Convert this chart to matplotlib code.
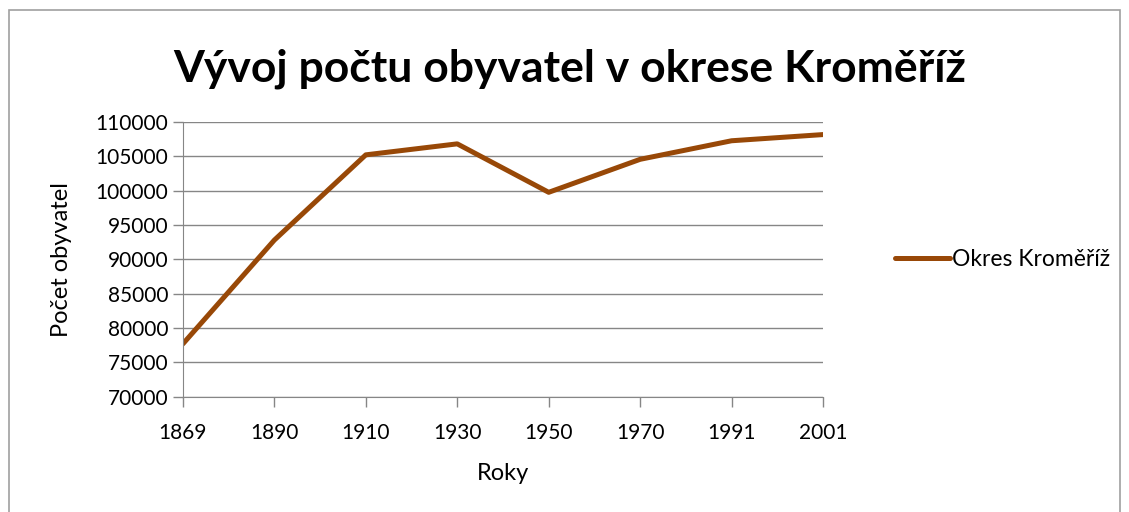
import numpy as np
import matplotlib.pyplot as plt
from matplotlib.patches import Rectangle

roky = ['1869', '1890', '1910', '1930', '1950', '1970', '1991', '2001']
obyvatel = [77700, 92800, 105200, 106800, 99750, 104550, 107250, 108150]

plt.rcParams['font.family'] = ['Lato', 'DejaVu Sans']

fig = plt.figure(figsize=(11.29, 5.12), dpi=100)
ax = fig.add_axes([0.162, 0.225, 0.567, 0.537])

x = np.arange(len(roky))
ax.plot(x, obyvatel, color='#984807', lw=3.6, solid_capstyle='round',
        solid_joinstyle='round', label='Okres Kroměříž')

ax.set_xlim(0, len(roky) - 1)
ax.set_ylim(70000, 110000)
ax.set_yticks(np.arange(70000, 110001, 5000))
ax.set_xticks(x)
ax.set_xticklabels(roky)
ax.yaxis.grid(True, color='#868686', lw=1)
ax.set_axisbelow(True)
for s in ['top', 'right']:
    ax.spines[s].set_visible(False)
for s in ['left', 'bottom']:
    ax.spines[s].set_color('#868686')
ax.tick_params(axis='both', colors='#868686', labelcolor='black', labelsize=15,
               length=7, width=1)
ax.tick_params(axis='x', pad=12)

ax.set_xlabel('Roky', fontsize=17, labelpad=14)
ax.set_ylabel('Počet obyvatel', fontsize=17, labelpad=17)
fig.suptitle('Vývoj počtu obyvatel v okrese Kroměříž', fontsize=32,
             fontweight='bold', x=0.505, y=0.905)

ax.legend(loc='center left', bbox_to_anchor=(1.08, 0.5), frameon=False,
          fontsize=16.5, handlelength=2.4, handletextpad=0.1)

fig.patches.append(Rectangle((0.008, -0.01), 0.984, 0.99, transform=fig.transFigure,
                             fill=False, edgecolor='#a0a0a0', lw=1.2))

fig.savefig('out.png', dpi=100)
